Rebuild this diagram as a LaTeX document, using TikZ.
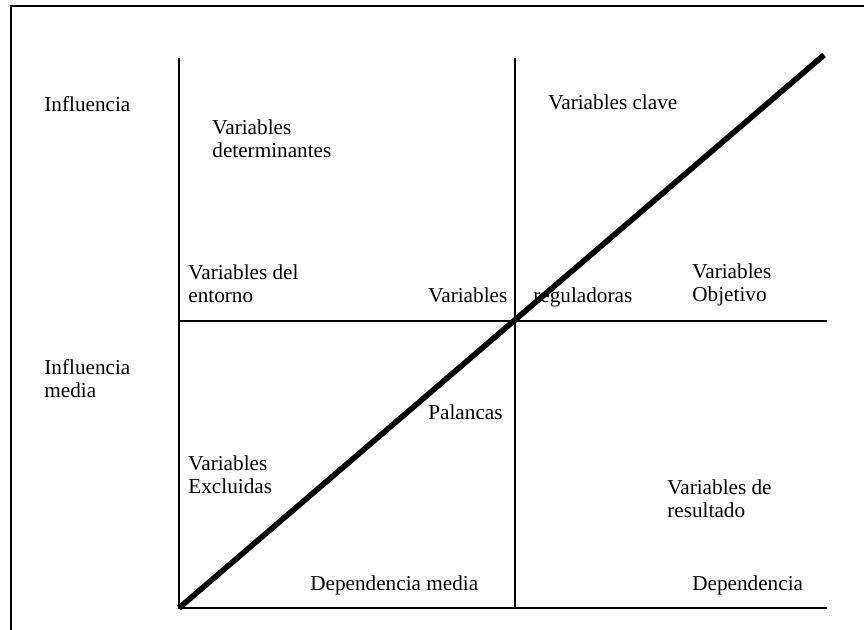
\documentclass[tikz,border=0pt]{standalone}
\usepackage{fontspec}
\setmainfont{Liberation Serif}
\begin{document}
\begin{tikzpicture}[x=0.5pt,y=-0.5pt,
  lbl/.style={anchor=base west,inner sep=0pt,align=left,font=\fontsize{10.6}{11.9}\selectfont}]
\useasboundingbox (0,0) rectangle (864,630);
% frame
\draw[line width=1pt] (11,640) -- (11,6) -- (874,6);
% axes
\coordinate (o) at (179,608);
\coordinate (ytop) at (179,58);
\coordinate (xend) at (827,608);
\coordinate (mtop) at (515,58);
\coordinate (mbot) at (515,608);
\coordinate (ml) at (179,321);
\coordinate (mr) at (827,321);
\coordinate (dend) at (824,55);
\draw[line width=1pt] (ytop) -- (o) -- (xend);
\draw[line width=1pt] (mtop) -- (mbot);
\draw[line width=1pt] (ml) -- (mr);
% labels (base = last line)
\node[lbl] (infl) at (44,112) {Influencia};
\node[lbl] (inflm) at (44,398) {Influencia\\media};
\node[lbl] (vdet) at (212,158) {Variables\\determinantes};
\node[lbl] (vcla) at (548,110) {Variables clave};
\node[lbl] (vent) at (188,303) {Variables del\\entorno};
\node[lbl] (vobj) at (692,302) {Variables\\Objetivo};
\node[lbl] (vreg1) at (428,303) {Variables};
\node[lbl] (vreg2) at (533,303) {reguladoras};
\node[lbl] (pal) at (428,420) {Palancas};
\node[lbl] (vexc) at (188,494) {Variables\\Excluidas};
\node[lbl] (vres) at (667,518) {Variables de\\resultado};
\node[lbl] (depm) at (310,591) {Dependencia media};
\node[lbl] (dep) at (692,591) {Dependencia};
% diagonal
\draw[line width=2.8pt] (o) -- (dend);
\end{tikzpicture}
\end{document}
